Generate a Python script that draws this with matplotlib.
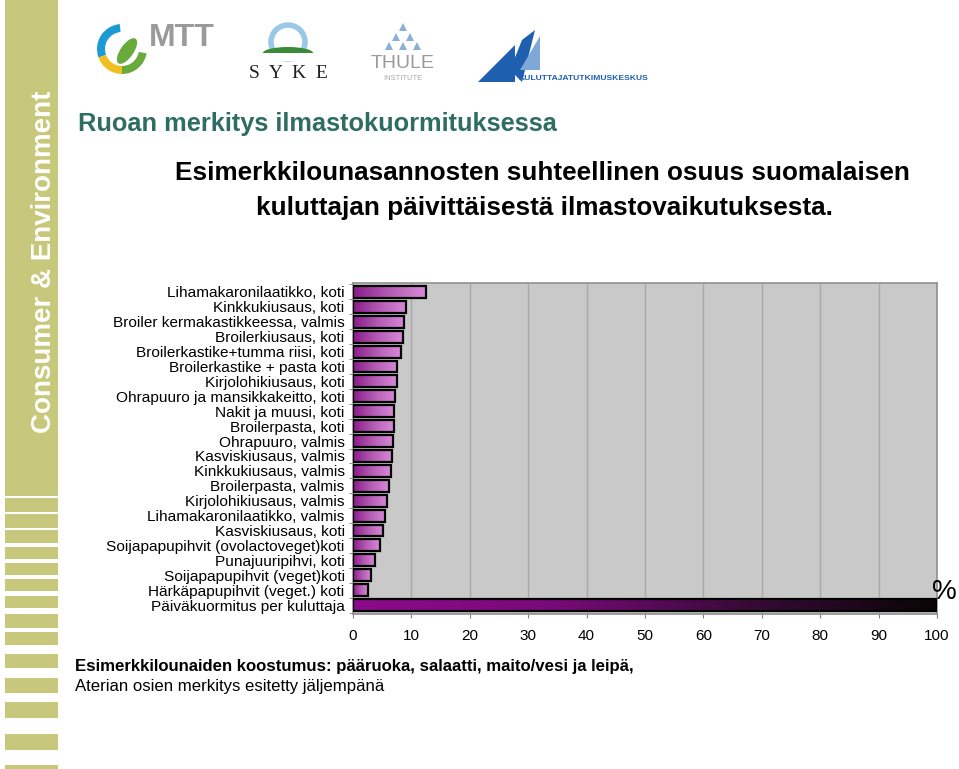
import numpy as np
import matplotlib
matplotlib.use('Agg')
import matplotlib.pyplot as plt
from matplotlib.patches import Rectangle, Circle, Ellipse, Polygon, Wedge
from matplotlib.colors import LinearSegmentedColormap

plt.rcParams['font.family'] = ['Liberation Sans', 'DejaVu Sans']

# data
meals = ['Lihamakaronilaatikko, koti', 'Kinkkukiusaus, koti',
         'Broiler kermakastikkeessa, valmis', 'Broilerkiusaus, koti',
         'Broilerkastike+tumma riisi, koti', 'Broilerkastike + pasta koti',
         'Kirjolohikiusaus, koti', 'Ohrapuuro ja mansikkakeitto, koti',
         'Nakit ja muusi, koti', 'Broilerpasta, koti', 'Ohrapuuro, valmis',
         'Kasviskiusaus, valmis', 'Kinkkukiusaus, valmis', 'Broilerpasta, valmis',
         'Kirjolohikiusaus, valmis', 'Lihamakaronilaatikko, valmis',
         'Kasviskiusaus, koti', 'Soijapapupihvit (ovolactoveget)koti',
         'Punajuuripihvi, koti', 'Soijapapupihvit (veget)koti',
         'Härkäpapupihvit (veget.) koti', 'Päiväkuormitus per kuluttaja']
share = [12.5, 9.1, 8.8, 8.5, 8.2, 7.6, 7.5, 7.2, 7.0, 7.0, 6.8,
         6.7, 6.5, 6.1, 5.9, 5.5, 5.1, 4.6, 3.8, 3.1, 2.5, 100]
xticks = list(range(0, 101, 10))

fig = plt.figure(figsize=(9.59, 7.69), dpi=100)

# background decoration in pixel coordinates
deco = fig.add_axes([0, 0, 1, 1])
deco.set_xlim(0, 959)
deco.set_ylim(769, 0)
deco.axis('off')

khaki = '#c8c87c'
deco.add_patch(Rectangle((5, 0), 53, 496, color=khaki, lw=0))
stripes = [(498, 512), (514, 528), (530, 543), (547, 559), (563, 575), (579, 591),
           (596, 608), (614, 628), (632, 645), (654, 668), (678, 693), (702, 718),
           (734, 750), (765, 769)]
for a, b in stripes:
    deco.add_patch(Rectangle((5, a), 53, b - a, color=khaki, lw=0))
deco.text(44, 262, 'Consumer & Environment', rotation=90, color='white',
          fontsize=20, fontweight='bold', ha='center', va='center',
          family=['Liberation Sans Narrow', 'Liberation Sans', 'DejaVu Sans'])

# logos (simplified); y axis is flipped here so angles are mirrored
deco.add_patch(Wedge((122, 49), 25, 160, 265, width=8, color='#1b9ad6', lw=0))
deco.add_patch(Wedge((122, 49), 25, 90, 160, width=8, color='#f0c020', lw=0))
deco.add_patch(Wedge((122, 49), 25, 10, 90, width=8, color='#6aaa3a', lw=0))
deco.add_patch(Ellipse((127, 51), 13, 30, angle=35, color='#6aaa3a', lw=0))
deco.text(149, 38, 'MTT', color='#9a9a9a', fontsize=23, fontweight='bold', va='center')

deco.add_patch(Circle((288, 42), 17, fill=False, ec='#9cc8e8', lw=4))
deco.add_patch(Ellipse((288, 53), 50, 12, color='#3a8a3a', lw=0))
deco.add_patch(Rectangle((262, 53), 52, 8, color='white', lw=0))
deco.text(288, 74, 'S  Y  K  E', color='#222222', fontsize=14, ha='center', va='center',
          family=['Liberation Serif', 'DejaVu Serif'])

for cx, cy in [(403, 27), (396, 37), (410, 37), (389, 46), (403, 46), (417, 46)]:
    deco.add_patch(Polygon([(cx - 4, cy + 4), (cx + 4, cy + 4), (cx, cy - 4)],
                           color='#8ab0d8', lw=0))
deco.text(403, 64, 'THULE', color='#9a9a9a', fontsize=14, ha='center', va='center')
deco.text(403, 78, 'INSTITUTE', color='#aaaaaa', fontsize=5.5, ha='center', va='center')

deco.add_patch(Polygon([(478, 82), (515, 82), (515, 45)], color='#1f5fb0', lw=0))
deco.add_patch(Polygon([(510, 70), (522, 82), (535, 30), (522, 40)], color='#1f5fb0', lw=0))
deco.add_patch(Polygon([(520, 70), (540, 70), (540, 36)], color='#7fa8d8', lw=0))
deco.text(518, 78, 'KULUTTAJATUTKIMUSKESKUS', color='#1f5fb0', fontsize=6.1,
          fontweight='bold', va='center')

# titles
deco.text(78, 124, 'Ruoan merkitys ilmastokuormituksessa', color='#2e6e62',
          fontsize=18.3, fontweight='bold', va='center')
deco.text(542, 173, 'Esimerkkilounasannosten suhteellinen osuus suomalaisen',
          fontsize=18.8, fontweight='bold', ha='center', va='center')
deco.text(544, 208, 'kuluttajan päivittäisestä ilmastovaikutuksesta.',
          fontsize=18.8, fontweight='bold', ha='center', va='center')
deco.text(75, 666, 'Esimerkkilounaiden koostumus: pääruoka, salaatti, maito/vesi ja leipä,',
          fontsize=12.1, fontweight='bold', va='center')
deco.text(75, 687, 'Aterian osien merkitys esitetty jäljempänä',
          fontsize=12.1, va='center')

# chart
ax = fig.add_axes([353 / 959, 1 - 614 / 769, 584 / 959, 331 / 769])
ax.set_facecolor('#c9c9c9')

light = LinearSegmentedColormap.from_list('light', ['#8a1a8a', '#b55cb5', '#d88ad8'])
dark = LinearSegmentedColormap.from_list('dark', ['#8c0a8c', '#7a0a7a', '#3a0a3a', '#0a0505'])
grad = np.linspace(0, 1, 256).reshape(1, -1)
h = 0.8
for i, v in enumerate(share):
    cmap = dark if i == len(share) - 1 else light
    ax.imshow(grad, extent=(0, v, i + h / 2, i - h / 2), aspect='auto',
              cmap=cmap, zorder=3, interpolation='bilinear')
    ax.add_patch(Rectangle((0, i - h / 2), v, h, fill=False, ec='black',
                           lw=1.6, zorder=4))

ax.set_xlim(0, 100)
ax.set_ylim(len(share) - 0.4, -0.6)
ax.set_aspect('auto')
ax.set_xticks(xticks)
ax.set_xticklabels([str(t) for t in xticks], fontsize=11)
ax.set_yticks(range(len(meals)))
ax.set_yticklabels(meals, fontsize=11.1)
ax.set_yticks(np.arange(-0.5, len(meals), 1), minor=True)
ax.tick_params(axis='y', which='major', length=0, pad=6)
ax.tick_params(axis='y', which='minor', length=3, color='#808080')
ax.tick_params(axis='x', length=3, color='#808080', pad=8)
ax.grid(axis='x', color='#a8a8a8', lw=1, zorder=1)
ax.set_axisbelow(True)
for s in ax.spines.values():
    s.set_color('#909090')
    s.set_linewidth(1.2)

fig.text(957 / 959, 1 - 592 / 769, '%', fontsize=20, ha='right', va='center', zorder=10)

fig.savefig('out.png', dpi=100)
